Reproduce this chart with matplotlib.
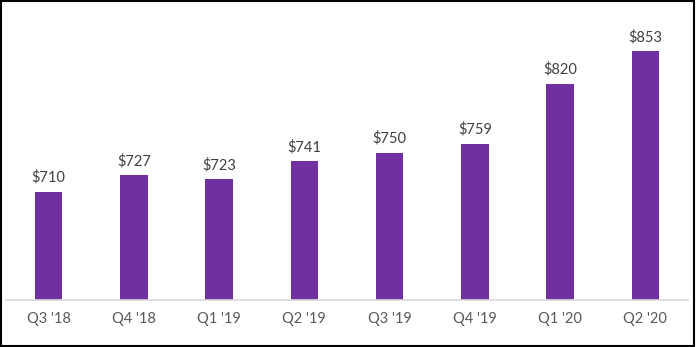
# Quarterly bar chart with dollar labels above each bar
import matplotlib.pyplot as plt
from matplotlib.patches import Rectangle

quarters = ["Q3 '18", "Q4 '18", "Q1 '19", "Q2 '19", "Q3 '19", "Q4 '19", "Q1 '20", "Q2 '20"]
values = [710, 727, 723, 741, 750, 759, 820, 853]

bar_color = "#7030A0"

plt.rcParams['font.family'] = ['Lato', 'DejaVu Sans']

fig = plt.figure(figsize=(6.96, 3.47), dpi=100)
# axes placed in pixel terms: x 6..688, baseline at y=300, top ~5
ax = fig.add_axes([6 / 696, (347 - 300) / 347, 682 / 696, 295 / 347])

x = range(len(quarters))
bars = ax.bar(x, values, width=0.32, color=bar_color, zorder=2)

for rect, v in zip(bars, values):
    ax.annotate(f"\\${v}", (rect.get_x() + rect.get_width() / 2, v),
                xytext=(0, 5), textcoords="offset points",
                ha="center", va="bottom", fontsize=10.5, color="#404040")

ax.set_xlim(-0.5, len(quarters) - 0.5)
ax.set_ylim(600, 900)
ax.set_xticks(list(x))
ax.set_xticklabels(quarters, fontsize=10.5, color="#595959")
ax.tick_params(axis="x", length=0, pad=9)
ax.set_yticks([])

for side in ["top", "right", "left"]:
    ax.spines[side].set_visible(False)
ax.spines["bottom"].set_color("#D9D9D9")
ax.spines["bottom"].set_linewidth(1.2)

# black frame around the whole picture
fig.patches.append(Rectangle((0.001, 0.002), 0.996, 0.995, transform=fig.transFigure,
                             fill=False, edgecolor="black", linewidth=1.5))

plt.savefig("out.png", dpi=100)
